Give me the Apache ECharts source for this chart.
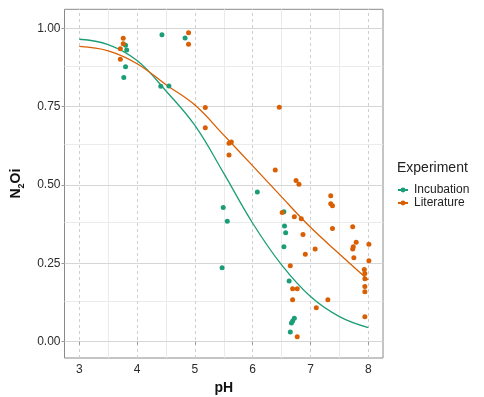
<!DOCTYPE html>
<html><head><meta charset="utf-8">
<script src="https://cdn.jsdelivr.net/npm/echarts@6/dist/echarts.min.js"></script>
<style>html,body{margin:0;padding:0;background:#fff}#c{width:484px;height:397px}</style>
</head><body><div id="c"></div>
<script>
// Scatter data: [pH, N2Oi]
const incubation = [
  [3.80,0.946],[3.82,0.931],[3.80,0.877],[3.77,0.843],[4.43,0.979],[4.41,0.815],[4.55,0.816],
  [4.83,0.969],[6.08,0.478],[5.49,0.428],[5.56,0.384],[6.54,0.415],[6.55,0.369],[6.57,0.348],
  [6.54,0.303],[5.47,0.236],[6.63,0.194],[6.72,0.075],[6.69,0.066],[6.67,0.060],[6.65,0.031]
];
const literature = [
  [3.76,0.968],[3.76,0.951],[3.71,0.935],[3.71,0.901],[4.89,0.986],[4.89,0.949],[5.18,0.747],
  [5.18,0.683],[6.46,0.748],[5.59,0.633],[5.63,0.637],[5.59,0.596],[6.39,0.548],[6.75,0.514],
  [6.80,0.502],[6.51,0.412],[6.72,0.399],[6.84,0.392],[6.87,0.342],[6.91,0.279],[6.65,0.242],
  [7.35,0.466],[7.35,0.440],[7.38,0.434],[7.38,0.361],[7.73,0.367],[7.79,0.317],[8.01,0.311],
  [7.74,0.303],[7.73,0.296],[7.08,0.296],[7.75,0.268],[8.01,0.258],[7.93,0.230],[7.94,0.218],
  [7.94,0.201],[6.69,0.169],[6.77,0.169],[7.94,0.176],[7.94,0.159],[6.69,0.134],[7.30,0.134],
  [7.10,0.108],[7.94,0.080],[6.77,0.016]
];
// Fitted curves
const curveX = [3.0,3.5,4.0,4.5,5.0,5.5,6.0,6.5,7.0,7.5,8.0];
const incubationFit = [0.965,0.948,0.897,0.800,0.690,0.537,0.378,0.245,0.144,0.080,0.045];
const literatureFit = [0.942,0.928,0.887,0.820,0.755,0.659,0.561,0.462,0.365,0.280,0.197];
// Axis ticks
const xTicks = [3,4,5,6,7,8];
const xMinor = [3.5,4.5,5.5,6.5,7.5];
const yTicks = [0,0.25,0.5,0.75,1];
const yMinor = [0.125,0.375,0.625,0.875];

const GREEN = '#1B9E77', ORANGE = '#D95F02';
const FONT = '"Liberation Sans", Arial, sans-serif';
const pair = (xs, ys) => xs.map((x,i)=>[x, ys[i]]);

const gridLines = []
  .concat(xMinor.map(v=>({xAxis:v, lineStyle:{color:'#ebebeb', type:'solid', width:1}})))
  .concat(yMinor.map(v=>({yAxis:v, lineStyle:{color:'#ebebeb', type:'solid', width:1}})))
  .concat(yTicks.map(v=>({yAxis:v, lineStyle:{color:'#d6d6d6', type:'solid', width:1}})))
  .concat(xTicks.map(v=>({xAxis:v, lineStyle:{color:'#cfcfcf', type:[3,3], width:1}})));

const chart = echarts.init(document.getElementById('c'), null, {renderer:'canvas'});
chart.setOption({
  animation:false,
  backgroundColor:'#fff',
  textStyle:{fontFamily:FONT},
  grid:{left:64.5, right:101, top:9.3, bottom:39, show:true, borderColor:'#8a8a8a', borderWidth:1,
        containLabel:false, outerBoundsMode:'none'},
  title:{text:'Experiment', left:392, top:156, textStyle:{fontFamily:FONT, fontSize:14, fontWeight:'normal', color:'#222'}},
  legend:{
    orient:'vertical', left:392, top:179, itemWidth:10, itemHeight:6, itemGap:1,
    textStyle:{fontFamily:FONT, fontSize:12, color:'#222', lineHeight:12, padding:[0,0,0,1]},
    data:['Incubation','Literature']
  },
  xAxis:{
    type:'value', min:2.744, max:8.254,
    name:'pH', nameLocation:'middle', nameGap:19,
    nameTextStyle:{fontFamily:FONT, fontSize:14, fontWeight:'bold', color:'#111', verticalAlign:'top'},
    axisLine:{show:false},
    axisTick:{show:true, customValues:xTicks, length:3, lineStyle:{color:'#999'}},
    axisLabel:{customValues:xTicks, fontFamily:FONT, fontSize:12, color:'#2b2b2b', margin:6},
    splitLine:{show:false}
  },
  yAxis:{
    type:'value', min:-0.052, max:1.0606,
    name:'{a|N}{b|2}{a|Oi}', nameLocation:'middle', nameGap:39, nameRotate:90,
    nameTextStyle:{fontFamily:FONT, fontSize:14, fontWeight:'bold', color:'#111',
      rich:{a:{fontFamily:FONT, fontSize:14, fontWeight:'bold', color:'#111', verticalAlign:'bottom', lineHeight:16},
            b:{fontFamily:FONT, fontSize:9, fontWeight:'bold', color:'#111', verticalAlign:'bottom', lineHeight:12, padding:[0,0,-3,0]}}},
    axisLine:{show:false},
    axisTick:{show:true, customValues:yTicks, length:3, lineStyle:{color:'#999'}},
    axisLabel:{customValues:yTicks, fontFamily:FONT, fontSize:12, color:'#2b2b2b', margin:4,
      formatter:v=>v.toFixed(2)},
    splitLine:{show:false}
  },
  series:[
    {type:'line', name:'grid', data:[], silent:true, z:0,
     markLine:{z:0, silent:true, symbol:['none','none'], label:{show:false}, animation:false, data:gridLines}},
    {type:'line', name:'Incubation', data:pair(curveX, incubationFit), smooth:0.4, symbol:'circle', symbolSize:4,
     showSymbol:false, lineStyle:{color:GREEN, width:1.3}, itemStyle:{color:GREEN}, z:3},
    {type:'line', name:'Literature', data:pair(curveX, literatureFit), smooth:0.4, symbol:'circle', symbolSize:4,
     showSymbol:false, lineStyle:{color:ORANGE, width:1.3}, itemStyle:{color:ORANGE}, z:3},
    {type:'scatter', name:'Incubation', data:incubation, symbolSize:5, itemStyle:{color:GREEN, opacity:1}, z:4},
    {type:'scatter', name:'Literature', data:literature, symbolSize:5, itemStyle:{color:ORANGE, opacity:1}, z:4}
  ]
});
</script></body></html>
